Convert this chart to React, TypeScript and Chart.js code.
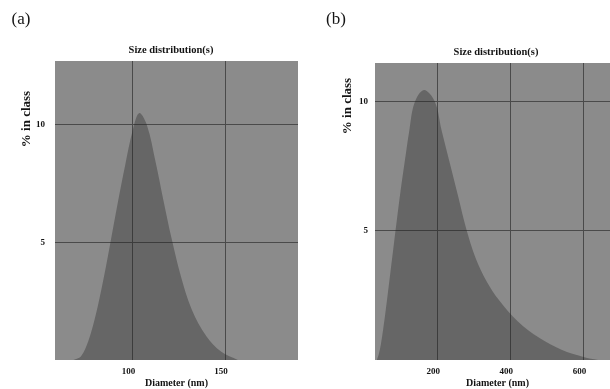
import React, { useEffect, useRef } from "react";
import { Chart, registerables } from "chart.js";

Chart.register(...registerables);

// Panel (a)
const diamA = [68, 72, 76, 80, 84, 88, 92, 96, 100, 103.5, 107.7, 112.5, 116.6, 121, 126, 132, 140, 148, 157];
const pctA = [0, 0.15, 0.8, 1.9, 3.35, 5, 6.7, 8.3, 9.75, 10.5, 10, 8.4, 6.82, 5.2, 3.6, 2.15, 1.0, 0.35, 0];
const xTicksA = [100, 150];
const yTicksA = [5, 10];

// Panel (b)
const diamB = [35, 40, 46, 52, 60, 70, 80, 90, 100, 112, 124, 138, 164, 193.7, 212, 235, 258, 280, 305, 335, 370, 420, 480, 540, 600, 640];
const pctB = [0, 0.2, 0.6, 1.15, 2.0, 3.15, 4.3, 5.45, 6.55, 7.75, 8.9, 9.95, 10.45, 10, 8.9, 7.6, 6.3, 5.05, 3.95, 3.05, 2.3, 1.5, 0.85, 0.4, 0.12, 0];
const xTicksB = [200, 400, 600];
const yTicksB = [5, 10];

const titleText = "Size distribution(s)";
const xTitleText = "Diameter (nm)";
const yTitleText = "% in class";

const SERIF = "'Liberation Serif', 'Times New Roman', serif";
const INK = "#141414";
const PLOT_BG = "#8b8b8b";
const FILL = "rgba(35,35,35,0.36)";
const GRID = "#4a4a4a";

const panelPlugin = {
  id: "panelText",
  beforeDraw(chart: any) {
    const { ctx, chartArea } = chart;
    ctx.save();
    ctx.fillStyle = PLOT_BG;
    ctx.fillRect(chartArea.left, chartArea.top, chartArea.right - chartArea.left, chartArea.bottom - chartArea.top);
    ctx.restore();
  },
  afterDraw(chart: any, _a: any, opts: any) {
    const ctx = chart.ctx;
    ctx.save();
    ctx.fillStyle = INK;
    ctx.textAlign = "center";
    ctx.textBaseline = "middle";
    ctx.font = `17px ${SERIF}`;
    ctx.fillText(opts.letter, opts.letterX, opts.letterY);
    ctx.font = `bold 10.5px ${SERIF}`;
    ctx.fillText(titleText, opts.titleX, opts.titleY);
    ctx.translate(opts.yTitleX, opts.yTitleY);
    ctx.rotate(-Math.PI / 2);
    ctx.font = `bold 13px ${SERIF}`;
    ctx.fillText(yTitleText, 0, 0);
    ctx.restore();
  },
};

function makeConfig(p: any): any {
  return {
    type: "line",
    data: {
      datasets: [
        {
          data: p.diam.map((x: number, i: number) => ({ x, y: p.pct[i] })),
          fill: "origin",
          backgroundColor: FILL,
          borderColor: "transparent",
          borderWidth: 0,
          pointRadius: 0,
          tension: 0.35,
        },
      ],
    },
    options: {
      responsive: false,
      animation: false,
      devicePixelRatio: 1,
      layout: { padding: p.padding },
      plugins: {
        legend: { display: false },
        tooltip: { enabled: false },
        title: { display: false },
        panelText: p.text,
      },
      scales: {
        x: {
          type: "linear",
          min: p.xMin,
          max: p.xMax,
          afterBuildTicks: (s: any) => {
            s.ticks = p.xTicks.map((v: number) => ({ value: v }));
          },
          afterFit: (s: any) => {
            s.height = p.xAxisH;
          },
          grid: { color: GRID, lineWidth: 1, drawTicks: false },
          border: { display: false },
          ticks: {
            font: { family: SERIF, size: 9, weight: "bold" },
            color: INK,
            padding: 6,
            labelOffset: -4,
            maxRotation: 0,
            autoSkip: false,
          },
          title: {
            display: true,
            text: xTitleText,
            font: { family: SERIF, size: 10, weight: "bold" },
            color: INK,
            padding: 0,
          },
        },
        y: {
          type: "linear",
          min: 0,
          max: p.yMax,
          afterBuildTicks: (s: any) => {
            s.ticks = p.yTicks.map((v: number) => ({ value: v }));
          },
          afterFit: (s: any) => {
            s.width = p.yAxisW;
          },
          grid: { color: GRID, lineWidth: 1, drawTicks: false },
          border: { display: false },
          ticks: {
            font: { family: SERIF, size: 9, weight: "bold" },
            color: INK,
            padding: p.yTickPad,
          },
        },
      },
    },
    plugins: [panelPlugin],
  };
}

const panelA = {
  diam: diamA,
  pct: pctA,
  xTicks: xTicksA,
  yTicks: yTicksA,
  xMin: 58,
  xMax: 189.5,
  yMax: 12.72,
  padding: { left: 0, top: 61, right: 7, bottom: 0 },
  xAxisH: 29,
  yAxisW: 55,
  yTickPad: 10,
  text: { letter: "(a)", letterX: 21, letterY: 20, titleX: 171, titleY: 50, yTitleX: 27, yTitleY: 119 },
};

const panelB = {
  diam: diamB,
  pct: pctB,
  xTicks: xTicksB,
  yTicks: yTicksB,
  xMin: 30,
  xMax: 700,
  yMax: 11.5,
  padding: { left: 0, top: 63, right: 5, bottom: 0 },
  xAxisH: 29,
  yAxisW: 70,
  yTickPad: 7,
  text: { letter: "(b)", letterX: 31, letterY: 20, titleX: 191, titleY: 52, yTitleX: 43, yTitleY: 106 },
};

function Panel({ cfg, left, width }: { cfg: any; left: number; width: number }) {
  const ref = useRef<HTMLCanvasElement | null>(null);
  useEffect(() => {
    if (!ref.current) return;
    const chart = new Chart(ref.current, makeConfig(cfg));
    return () => chart.destroy();
  }, [cfg]);
  return (
    <canvas
      ref={ref}
      width={width}
      height={389}
      style={{ position: "absolute", left, top: 0, width, height: 389, display: "block" }}
    />
  );
}

export default function App() {
  return (
    <div
      style={{
        position: "absolute",
        left: 0,
        top: 0,
        width: 610,
        height: 389,
        overflow: "hidden",
        background: "#ffffff",
      }}
    >
      <Panel cfg={panelA} left={0} width={305} />
      <Panel cfg={panelB} left={305} width={320} />
    </div>
  );
}
